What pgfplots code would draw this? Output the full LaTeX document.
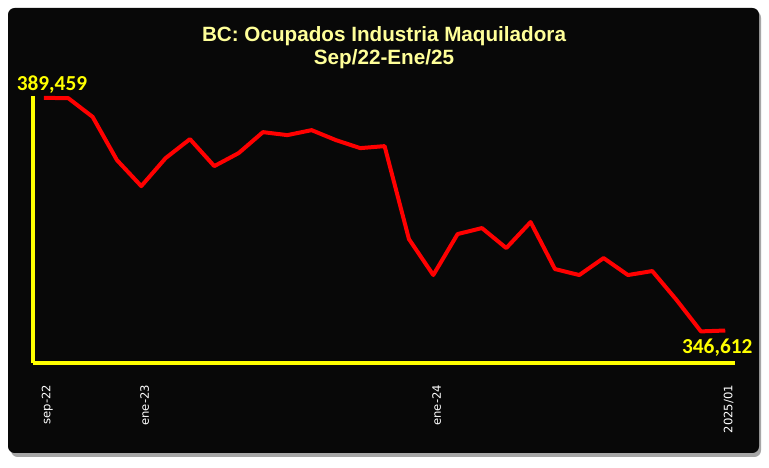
\documentclass[border=0pt]{standalone}
\usepackage{pgfplots}
\pgfplotsset{compat=1.18}
\usepackage{fontspec}
\setmainfont{Liberation Sans}
\newfontfamily\titlefont{Liberation Sans Bold}
\newfontfamily\labfont{Carlito Bold}
\newfontfamily\tickfont{DejaVu Sans}
\definecolor{bgblack}{HTML}{080808}
\definecolor{ttl}{HTML}{FFFF99}
\definecolor{ylw}{HTML}{FFFF00}
\begin{document}
\begin{tikzpicture}[x=1pt,y=1pt]
% pixel (px,py) -> ((px-33)*0.75, (363-py)*0.75)
\fill[white] (-24.75,-78.75) rectangle (552,272.25);
\fill[black!35, rounded corners=5pt] (-16.5,-70.5) rectangle (546,264);
\fill[bgblack, rounded corners=5pt] (-18.75,-67.5) rectangle (544.5,266.25);
\node[align=center, text=ttl, font=\titlefont\fontsize{15.5}{17.25}\selectfont] at (263.25,236.5) {BC: Ocupados Industria Maquiladora\\Sep/22-Ene/25};
\begin{axis}[at={(0,0)}, anchor=south west, scale only axis,
  width=526.5pt, height=200.25pt,
  xmin=-0.45, xmax=28.4, ymin=340630, ymax=389800,
  axis x line=bottom, axis y line=left,
  axis line style={ylw, line width=3pt, -},
  xtick={0,4,16,28}, xticklabels={sep-22,ene-23,ene-24,2025/01},
  major tick length=0pt,
  xticklabel shift=13pt,
  xticklabel style={xshift=2.5pt, rotate=90, anchor=east, font=\tickfont\fontsize{8.7}{8.7}\selectfont, text=white},
  ytick=\empty,
  clip=false]
\addplot[red, line width=3pt, line join=round] coordinates {
(0,389459) (1,389400) (2,385962) (3,377993) (4,373207) (5,378361)
(6,381858) (7,376888) (8,379281) (9,383146) (10,382594) (11,383514)
(12,381674) (13,380201) (14,380569) (15,363453) (16,356827) (17,364373)
(18,365477) (19,361796) (20,366582) (21,357931) (22,356827) (23,359956)
(24,356827) (25,357563) (26,352226) (27,346450) (28,346612)};
\node[anchor=south, text=ylw, font=\labfont\fontsize{16}{16}\selectfont, xshift=6pt, yshift=0pt] at (axis cs:0,389459) {389,459};
\node[anchor=north, text=ylw, font=\labfont\fontsize{16}{16}\selectfont, xshift=-6pt, yshift=-3pt] at (axis cs:28,346612) {346,612};
\end{axis}
\end{tikzpicture}
\end{document}
